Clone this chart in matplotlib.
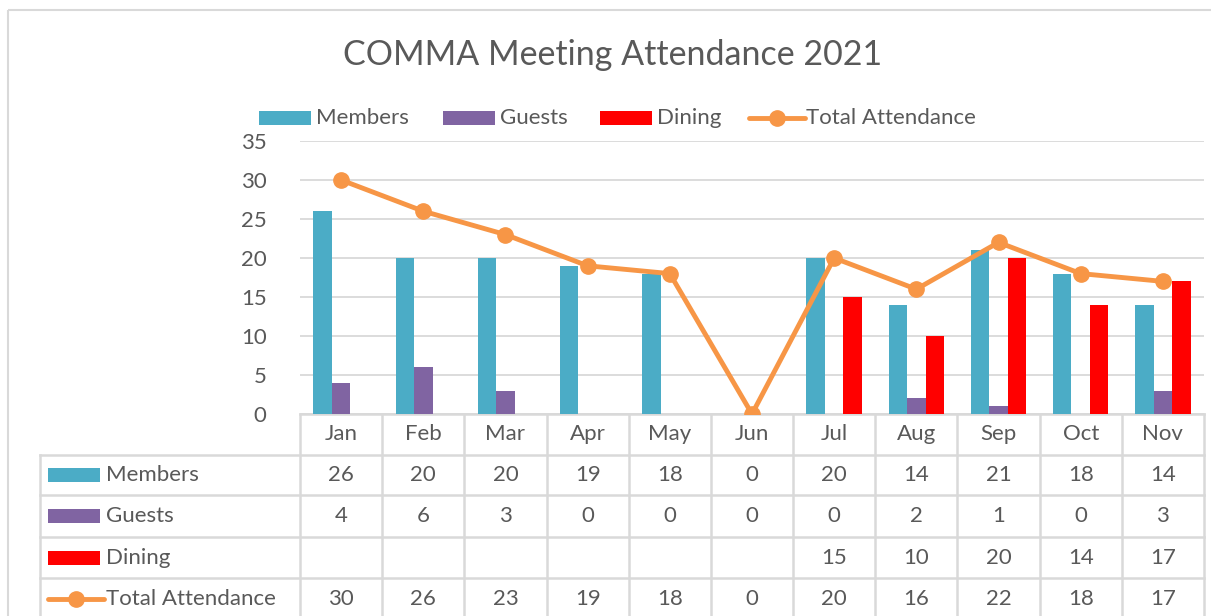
import matplotlib
matplotlib.use("Agg")
from matplotlib import pyplot as plt
from matplotlib.patches import Rectangle
from matplotlib.lines import Line2D
import numpy as np

months = ["Jan", "Feb", "Mar", "Apr", "May", "Jun", "Jul", "Aug", "Sep", "Oct", "Nov"]
members = [26, 20, 20, 19, 18, 0, 20, 14, 21, 18, 14]
guests = [4, 6, 3, 0, 0, 0, 0, 2, 1, 0, 3]
dining = [None, None, None, None, None, None, 15, 10, 20, 14, 17]
total = [30, 26, 23, 19, 18, 0, 20, 16, 22, 18, 17]

c_mem = "#4BACC6"
c_gue = "#8064A2"
c_din = "#FF0000"
c_tot = "#F79646"
grey = "#D9D9D9"
txt = "#595959"
fs = 16

plt.rcParams['font.family'] = ['Lato', 'DejaVu Sans']

W, H = 1211, 616
fig = plt.figure(figsize=(W / 100, H / 100), dpi=100)

# overlay for border, legend and table, in pixel coords
ov = fig.add_axes([0, 0, 1, 1])
ov.set_xlim(0, W)
ov.set_ylim(H, 0)
ov.axis("off")
ov.add_patch(Rectangle((8, 10), W + 20, H + 20, fill=False, ec=grey, lw=1.5))

# plot area
pl, pr, pt, pb = 300, 1204, 141, 414
ax = fig.add_axes([pl / W, (H - pb) / H, (pr - pl) / W, (pb - pt) / H])
x = np.arange(len(months))
bw = 0.225
ax.bar(x - bw, members, bw, color=c_mem, zorder=2)
ax.bar(x, guests, bw, color=c_gue, zorder=2)
din = np.array([np.nan if v is None else v for v in dining], dtype=float)
ax.bar(x + bw, din, bw, color=c_din, zorder=2)
ax.plot(x, total, color=c_tot, lw=3.5, marker="o", ms=11, zorder=3)
ax.set_xlim(-0.5, len(months) - 0.5)
ax.set_ylim(0, 35)
ax.set_yticks(range(0, 36, 5))
ax.yaxis.grid(True, color=grey, lw=1.3, zorder=0)
ax.set_xticks([])
for s in ax.spines.values():
    s.set_visible(False)
ax.tick_params(axis="y", length=0, labelsize=fs, labelcolor=txt, pad=24)
ax.set_facecolor("none")

# title
ov.text(613, 55, "COMMA Meeting Attendance 2021", fontsize=24.5, color=txt,
        ha="center", va="center")

# legend
leg_y = 118
items = [("Members", c_mem, "bar", 259), ("Guests", c_gue, "bar", 443),
         ("Dining", c_din, "bar", 600), ("Total Attendance", c_tot, "line", 749)]


def key(xx, yy, col, kind):
    if kind == "bar":
        ov.add_patch(Rectangle((xx, yy - 7), 52, 14, color=col, lw=0))
    else:
        ov.plot([xx, xx + 56], [yy, yy], color=col, lw=3.5, solid_capstyle="round")
        ov.plot([xx + 28], [yy], "o", color=col, ms=11)


for name, col, kind, lx in items:
    key(lx, leg_y, col, kind)
    ov.text(lx + 57, leg_y, name, fontsize=fs, color=txt, va="center", ha="left")

# data table
colw = (pr - pl) / len(months)
rows_y = [414, 455, 495, 537, 578, 620]
tbl_right = pr
lw_t = 1.8
ov.add_line(Line2D([pl, tbl_right], [rows_y[0]] * 2, color=grey, lw=lw_t))
for ry in rows_y[1:5]:
    ov.add_line(Line2D([40, tbl_right], [ry] * 2, color=grey, lw=lw_t))
ov.add_line(Line2D([40, 40], [rows_y[1], H], color=grey, lw=lw_t))
for k in range(len(months) + 1):
    xx = pl + k * colw
    ov.add_line(Line2D([xx, xx], [rows_y[0], H], color=grey, lw=lw_t))

for i, m in enumerate(months):
    ov.text(pl + (i + 0.5) * colw, (rows_y[0] + rows_y[1]) / 2, m,
            fontsize=fs, color=txt, ha="center", va="center")

series = [("Members", members, c_mem, "bar"), ("Guests", guests, c_gue, "bar"),
          ("Dining", dining, c_din, "bar"), ("Total Attendance", total, c_tot, "line")]
for r, (name, vals, col, kind) in enumerate(series):
    cy = (rows_y[r + 1] + rows_y[r + 2]) / 2
    if r == 3:
        cy = rows_y[4] + 21
    key(48, cy, col, kind)
    ov.text(106, cy, name, fontsize=fs, color=txt, ha="left", va="center")
    for i, v in enumerate(vals):
        if v is None:
            continue
        ov.text(pl + (i + 0.5) * colw, cy, str(v), fontsize=fs, color=txt,
                ha="center", va="center")

fig.savefig("out.png", dpi=100)
